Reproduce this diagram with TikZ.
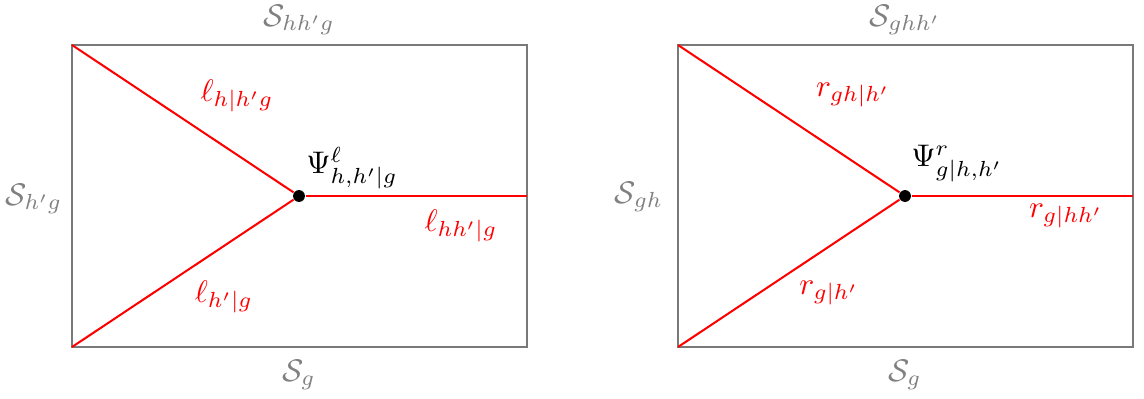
\documentclass[tikz,border=0pt]{standalone}
\usepackage{amsmath}
\begin{document}
\begin{tikzpicture}[x=0.32pt,y=-0.32pt,
  frame/.style={draw=gray!95!black, line width=0.75pt},
  wire/.style={draw=red, line width=0.65pt},
  vtx/.style={circle, fill=black, inner sep=0pt, minimum size=3.8pt},
  slab/.style={text=gray, inner sep=1pt},
  wlab/.style={text=red, inner sep=1pt},
  plab/.style={text=black, inner sep=1pt}]
\useasboundingbox (0,0) rectangle (1144,398);
% left
\coordinate (LA) at (72,45);
\coordinate (LB) at (527,45);
\coordinate (LC) at (527,347);
\coordinate (LD) at (72,347);
\coordinate (LE) at (527,196);
\draw[frame] (LA) rectangle (LC);
\node[vtx] (LV) at (299,196) {};
\draw[wire] (LA) -- (LV);
\draw[wire] (LD) -- (LV);
\draw[wire] (LV) -- (LE);
\node[slab] (lt) at (299,20) {$\mathcal{S}_{hh'g}$};
\node[slab] (ll) at (34,199) {$\mathcal{S}_{h'g}$};
\node[slab] (lb) at (299,375) {$\mathcal{S}_{g}$};
\node[wlab] (l1) at (237,96) {$\ell_{h|h'g}$};
\node[wlab] (l2) at (461,226) {$\ell_{hh'|g}$};
\node[wlab] (l3) at (224,297) {$\ell_{h'|g}$};
\node[plab] (lp) at (352,168) {$\Psi^{\ell}_{h,h'|g}$};
% right
\coordinate (RA) at (678,45);
\coordinate (RB) at (1133,45);
\coordinate (RC) at (1133,347);
\coordinate (RD) at (678,347);
\coordinate (RE) at (1133,196);
\draw[frame] (RA) rectangle (RC);
\node[vtx] (RV) at (905,196) {};
\draw[wire] (RA) -- (RV);
\draw[wire] (RD) -- (RV);
\draw[wire] (RV) -- (RE);
\node[slab] (rt) at (905,20) {$\mathcal{S}_{ghh'}$};
\node[slab] (rl) at (639,197) {$\mathcal{S}_{gh}$};
\node[slab] (rb) at (905,375) {$\mathcal{S}_{g}$};
\node[wlab] (r1) at (853,95) {$r_{gh|h'}$};
\node[wlab] (r2) at (1066,216) {$r_{g|hh'}$};
\node[wlab] (r3) at (829,293) {$r_{g|h'}$};
\node[plab] (rp) at (957,164) {$\Psi^{r}_{g|h,h'}$};
\end{tikzpicture}
\end{document}
